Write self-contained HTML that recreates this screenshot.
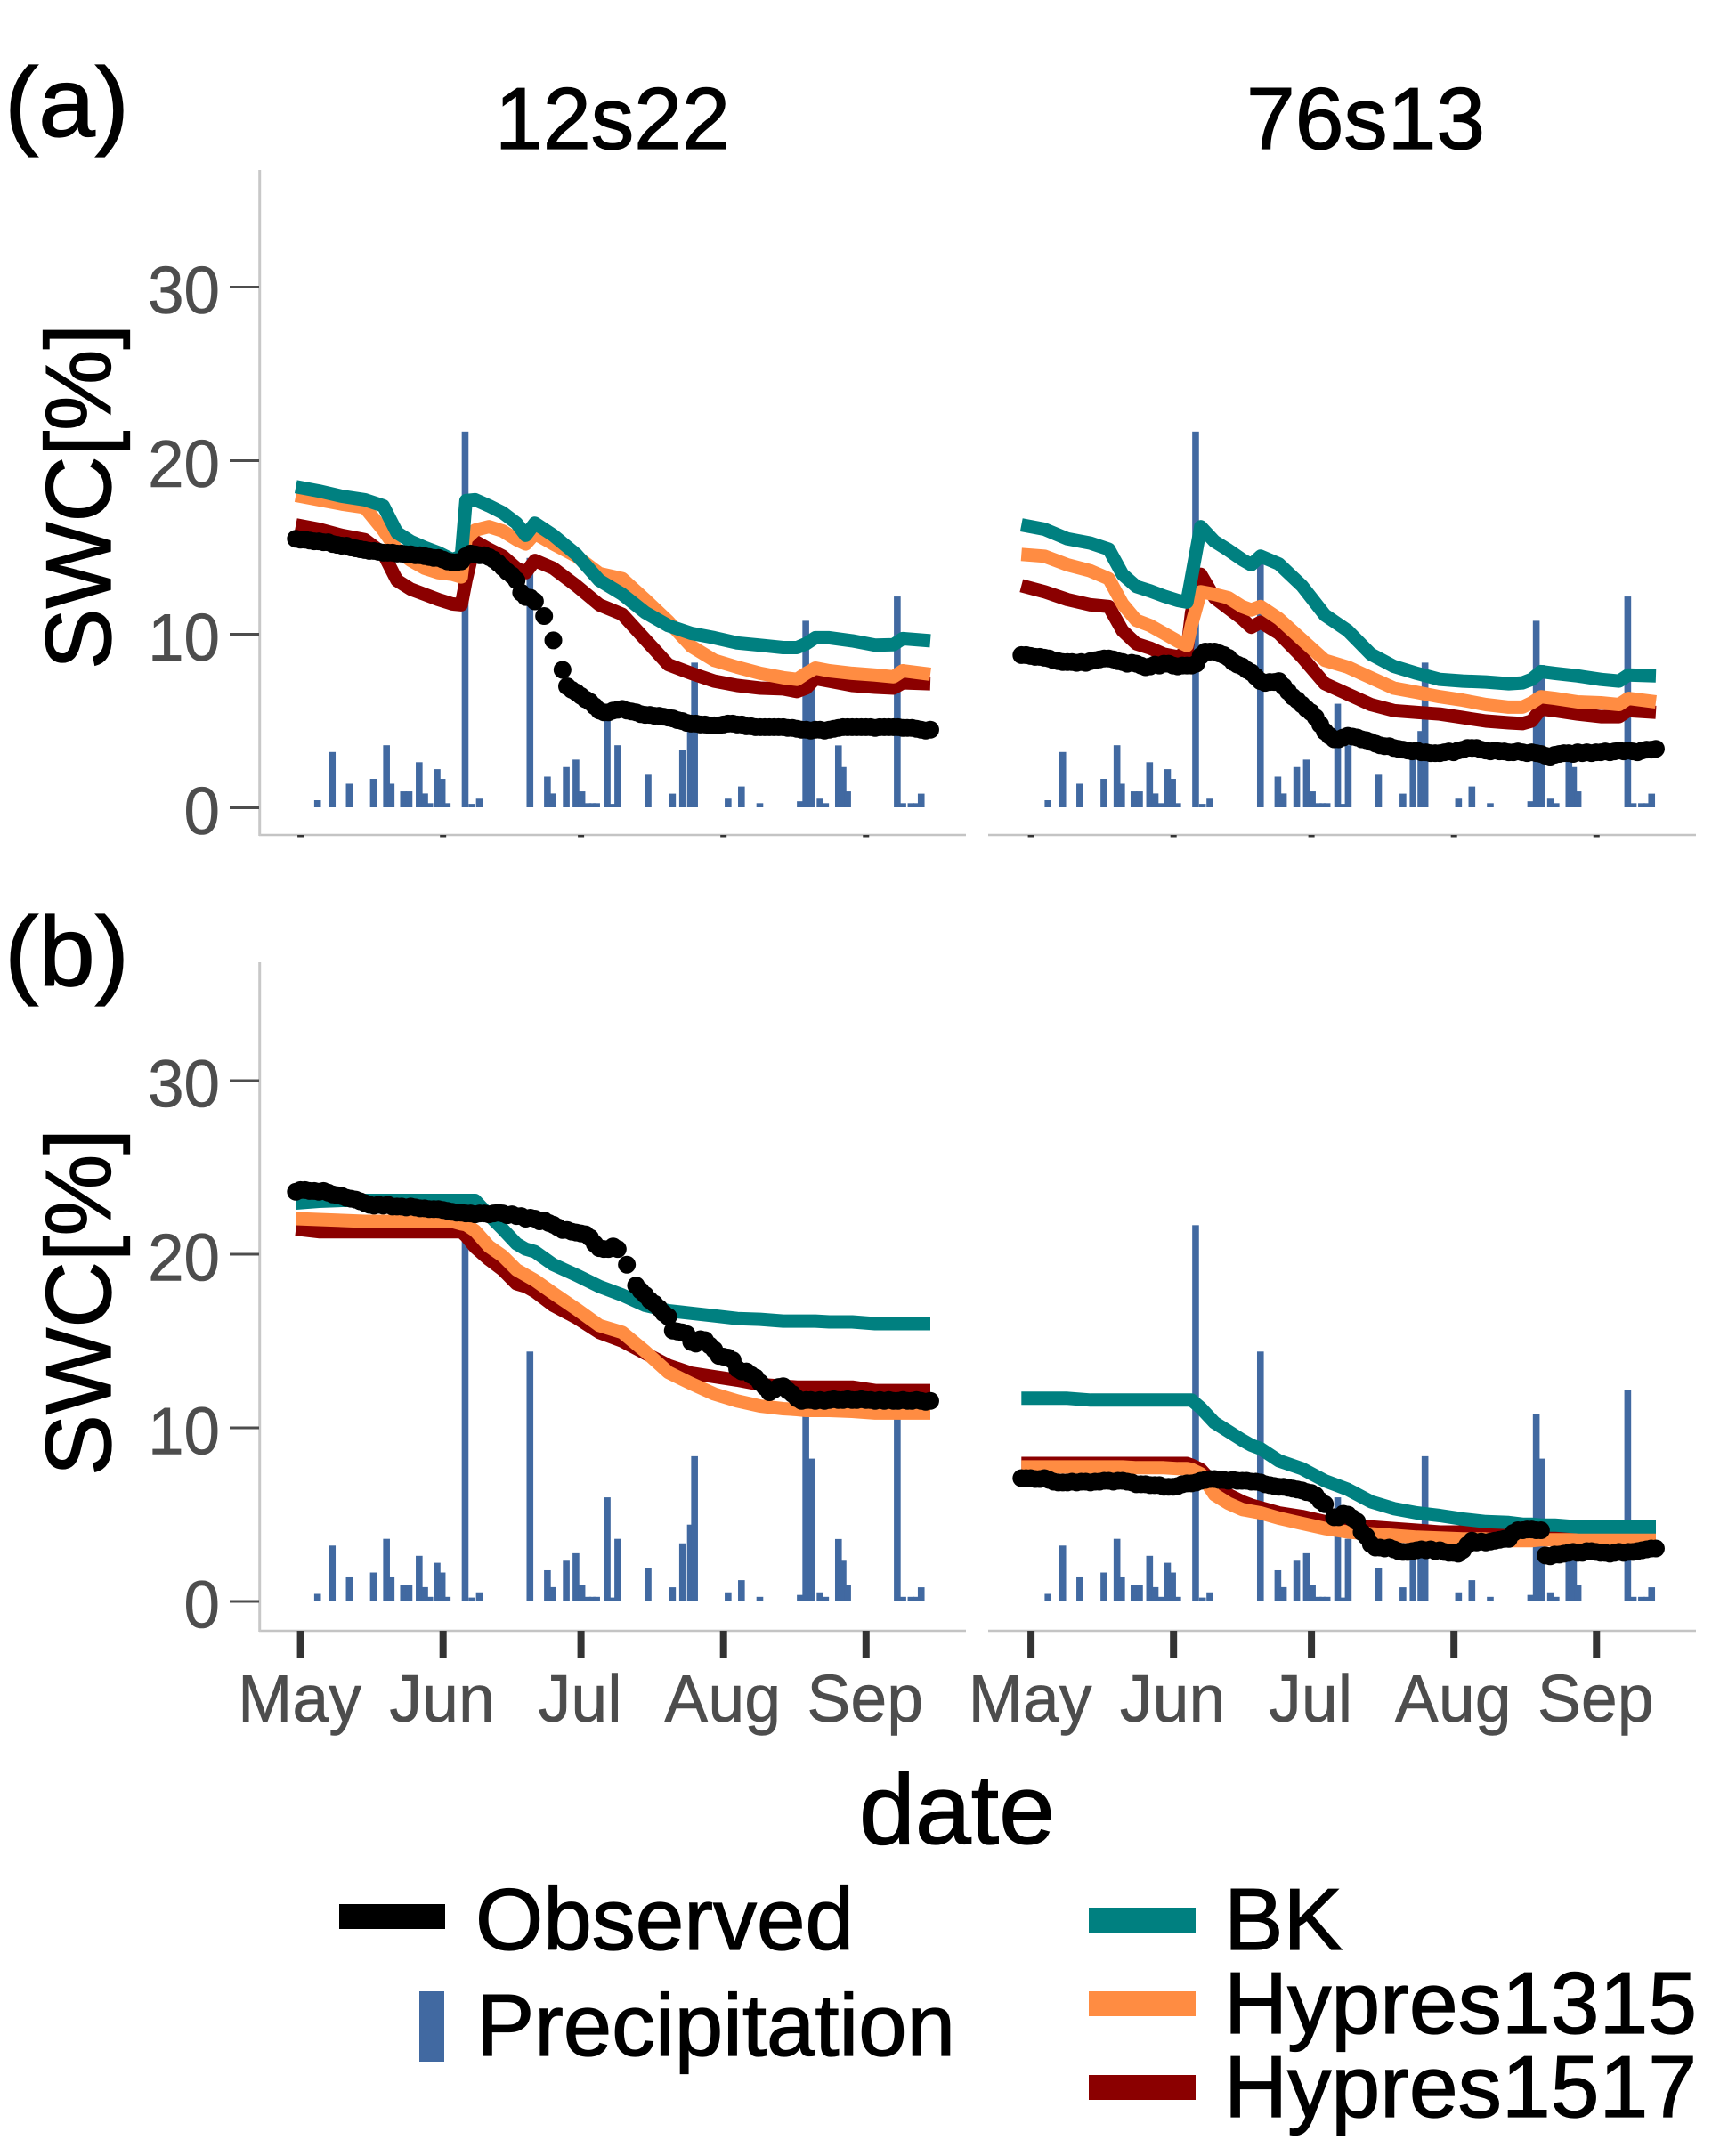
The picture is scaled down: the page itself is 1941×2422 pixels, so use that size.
<!DOCTYPE html>
<html lang="en">
<head>
<meta charset="utf-8">
<title>SWC time series</title>
<style>
html,body{margin:0;padding:0;background:#fff;}
svg{display:block;font-family:"Liberation Sans",Arial,sans-serif;}
.bk{stroke:#000;stroke-width:1.3px;}
</style>
</head>
<body>
<svg id="chart" xmlns="http://www.w3.org/2000/svg" width="1941" height="2422" viewBox="0 0 1941 2422">
  <rect x="0" y="0" width="1941" height="2422" fill="#ffffff"/>
  <text class="bk" x="5" y="153" font-size="110" textLength="140" lengthAdjust="spacingAndGlyphs">(a)</text>
  <text class="bk" x="5" y="1107" font-size="110" textLength="140" lengthAdjust="spacingAndGlyphs">(b)</text>
  <text class="bk" x="556" y="167" font-size="98" textLength="264" lengthAdjust="spacingAndGlyphs">12s22</text>
  <text class="bk" x="1400" y="167" font-size="98" textLength="268" lengthAdjust="spacingAndGlyphs">76s13</text>
  <text class="bk" transform="translate(124,752) rotate(-90)" font-size="104" textLength="388" lengthAdjust="spacingAndGlyphs">SWC[%]</text>
  <text class="bk" transform="translate(124,1658) rotate(-90)" font-size="104" textLength="390" lengthAdjust="spacingAndGlyphs">SWC[%]</text>
  <text class="bk" x="965" y="2071" font-size="111" textLength="220" lengthAdjust="spacingAndGlyphs">date</text>
  <g id="panels"></g>
  <g>
    <rect x="381" y="2139" width="119" height="28" fill="#000000"/>
    <text class="bk" x="534" y="2190" font-size="98" textLength="425" lengthAdjust="spacingAndGlyphs">Observed</text>
    <rect x="471" y="2237" width="28" height="79" fill="#4169a1"/>
    <text class="bk" x="535" y="2309" font-size="98" textLength="538" lengthAdjust="spacingAndGlyphs">Precipitation</text>
    <rect x="1223" y="2143" width="120" height="28" fill="#008080"/>
    <text class="bk" x="1375" y="2190" font-size="98" textLength="133" lengthAdjust="spacingAndGlyphs">BK</text>
    <rect x="1223" y="2237" width="120" height="28" fill="#ff8c42"/>
    <text class="bk" x="1375" y="2284" font-size="98" textLength="531" lengthAdjust="spacingAndGlyphs">Hypres1315</text>
    <rect x="1223" y="2331" width="120" height="28" fill="#8b0000"/>
    <text class="bk" x="1375" y="2378" font-size="98" textLength="531" lengthAdjust="spacingAndGlyphs">Hypres1517</text>
  </g>
</svg>
<script>
// ---- shared categories and tick labels ----
const monthLabels = ["May","Jun","Jul","Aug","Sep"];
const monthDays = [0,31,61,92,123];
const yTicks = [0,10,20,30];

// ---- precipitation (in axis units) ----
const precipDays = [3.7,6.9,10.6,15.85,18.7,19.7,22.4,23.6,25.8,27,28.1,29.7,30.8,31.9,35.8,37.3,38.9,49.9,53.7,54.9,57.8,59.9,61.2,62.5,63.5,64.4,66.7,68,69,75.6,80.9,83.1,84.8,85.7,93,95.9,99.9,108.7,109.9,111.1,113,114.2,117,118,119,129.8,131,132.8,134,135];
const precipValues = [0.41,3.19,1.36,1.64,3.58,1.36,0.92,0.92,2.6,0.8,0.24,2.2,1.64,0.24,21.65,0.2,0.5,14.37,1.77,0.8,2.32,2.75,0.92,0.24,0.24,0.24,5.97,0.2,3.58,1.88,0.79,3.32,4.4,8.34,0.5,1.2,0.24,0.35,10.75,8.2,0.5,0.24,3.57,2.32,0.92,12.15,0.24,0.24,0.24,0.79];

// ---- model lines: shared day index ----
const lineDays = [-1,4,9,14,18,21,24,27,30,33,35,36,38,41,44,47,49,51,55,60,65,70,75,80,85,90,95,100,105,108,110,112,115,120,125,129,131,137];

// panel a, site 12s22
const bkA1 = [18.5,18.25,17.95,17.75,17.4,15.85,15.35,15.0,14.7,14.3,14.5,17.7,17.75,17.4,17.0,16.4,15.7,16.4,15.7,14.6,13.1,12.3,11.25,10.5,10.05,9.8,9.5,9.37,9.23,9.23,9.45,9.8,9.8,9.62,9.37,9.4,9.75,9.62];
const h1315A1 = [18.0,17.75,17.5,17.3,16.0,14.85,14.25,13.8,13.55,13.45,13.3,15.5,16.0,16.2,15.95,15.45,15.2,15.8,15.2,14.5,13.5,13.2,12.0,10.75,9.3,8.5,8.1,7.75,7.5,7.4,7.75,8.05,7.9,7.75,7.65,7.55,7.9,7.7];
const h1517A1 = [16.3,16.05,15.7,15.45,14.65,13.1,12.6,12.3,12.0,11.75,11.7,13.1,15.35,14.9,14.5,13.8,13.55,14.25,13.8,12.8,11.7,11.15,9.7,8.25,7.75,7.3,7.05,6.9,6.85,6.7,6.9,7.45,7.3,7.05,6.95,6.9,7.2,7.15];
// panel a, site 76s13
const bkA2 = [16.3,16.05,15.5,15.25,14.9,13.45,12.75,12.5,12.2,11.95,11.85,13.3,16.2,15.35,14.85,14.3,14.0,14.5,14.05,12.8,11.1,10.2,8.85,8.15,7.75,7.4,7.3,7.25,7.15,7.2,7.4,7.85,7.75,7.6,7.4,7.3,7.65,7.6];
const h1315A2 = [14.6,14.5,14.0,13.65,13.2,11.75,10.8,10.5,10.05,9.6,9.35,10.55,12.45,12.3,12.1,11.6,11.4,11.6,10.9,9.7,8.5,8.1,7.5,6.9,6.65,6.4,6.2,5.95,5.8,5.8,6.05,6.4,6.3,6.1,6.05,5.95,6.3,6.1];
const h1517A2 = [12.8,12.45,12.0,11.7,11.6,10.2,9.45,9.2,8.85,8.7,9.0,11.25,13.45,12.1,11.5,10.9,10.4,10.7,10.05,8.7,7.15,6.55,5.95,5.6,5.5,5.4,5.2,5.0,4.9,4.85,5.0,5.7,5.6,5.4,5.25,5.25,5.6,5.5];
// panel b, site 12s22
const bkB1 = [22.95,23.05,23.1,23.1,23.1,23.1,23.1,23.1,23.1,23.1,23.1,23.1,23.1,22.25,21.45,20.6,20.3,20.15,19.4,18.8,18.15,17.65,17.05,16.75,16.6,16.45,16.3,16.25,16.15,16.15,16.15,16.15,16.1,16.1,16.0,16.0,16.0,16.0];
const h1315B1 = [22.05,22.0,21.95,21.9,21.9,21.9,21.9,21.9,21.9,21.9,21.75,21.7,21.35,20.45,19.9,19.1,18.8,18.5,17.75,16.85,15.9,15.5,14.4,13.2,12.55,11.95,11.55,11.25,11.1,11.05,11.0,11.0,11.0,10.95,10.85,10.85,10.85,10.85];
const h1517B1 = [21.45,21.3,21.3,21.3,21.3,21.3,21.3,21.3,21.3,21.3,21.3,21.05,20.4,19.7,19.1,18.3,18.15,17.85,17.05,16.35,15.5,15.0,14.3,13.6,13.15,12.95,12.75,12.5,12.4,12.35,12.35,12.35,12.35,12.35,12.15,12.15,12.15,12.15];
// panel b, site 76s13
const bkB2 = [11.7,11.7,11.7,11.6,11.6,11.6,11.6,11.6,11.6,11.6,11.6,11.6,11.15,10.3,9.8,9.3,9.0,8.8,8.1,7.65,6.95,6.45,5.75,5.35,5.1,4.95,4.75,4.6,4.55,4.45,4.45,4.4,4.4,4.3,4.3,4.3,4.3,4.3];
const h1315B2 = [7.75,7.75,7.75,7.75,7.75,7.75,7.7,7.7,7.7,7.65,7.65,7.6,7.35,6.15,5.65,5.3,5.2,5.1,4.8,4.5,4.2,4.0,3.9,3.8,3.7,3.65,3.6,3.6,3.5,3.5,3.5,3.55,3.55,3.55,3.55,3.55,3.55,3.55];
const h1517B2 = [7.95,7.95,7.95,7.95,7.95,7.95,7.95,7.95,7.95,7.95,7.95,7.85,7.6,6.75,6.15,5.75,5.55,5.4,5.1,4.9,4.6,4.4,4.3,4.2,4.1,4.0,4.0,4.0,3.95,3.9,3.9,3.8,3.8,3.8,3.8,3.8,3.8,3.8];

// ---- observed daily values, first entry is day -1; null = no reading ----
const obsA1 = [15.5,15.45,15.45,15.4,15.35,15.35,15.3,15.3,15.2,15.15,15.1,15.1,15.0,14.95,14.9,14.85,14.8,14.8,14.75,14.7,14.7,14.7,14.65,14.65,14.6,14.6,14.55,14.55,14.5,14.45,14.4,14.4,14.3,14.2,14.15,14.15,14.2,14.5,14.65,14.6,14.55,14.55,14.45,14.3,14.1,13.85,13.6,13.4,13.1,12.4,12.15,12.1,11.9,null,11.05,null,9.65,null,7.95,7.0,6.8,6.65,6.45,6.25,6.1,5.85,5.6,5.5,5.5,5.6,5.65,5.7,5.6,5.55,5.5,5.4,5.35,5.35,5.3,5.3,5.25,5.2,5.15,5.05,5.0,4.9,4.85,4.85,4.8,4.8,4.75,4.75,4.75,4.8,4.85,4.85,4.8,4.8,4.7,4.7,4.65,4.65,4.65,4.65,4.65,4.65,4.65,4.6,4.6,4.55,4.5,4.5,4.45,4.5,4.5,4.45,4.5,4.55,4.6,4.65,4.65,4.65,4.65,4.65,4.65,4.65,4.6,4.65,4.65,4.65,4.65,4.65,4.6,4.6,4.6,4.55,4.5,4.45,4.5];
const obsA2 = [8.8,8.8,8.75,8.7,8.7,8.65,8.6,8.5,8.45,8.4,8.4,8.4,8.35,8.4,8.35,8.45,8.5,8.55,8.6,8.6,8.55,8.45,8.4,8.3,8.35,8.3,8.2,8.1,8.15,8.25,8.2,8.3,8.3,8.2,8.15,8.2,8.2,8.2,8.3,8.75,9.0,9.0,9.0,8.9,8.8,8.65,8.4,8.25,8.15,7.95,7.8,7.55,7.3,7.2,7.25,7.25,7.3,7.0,6.7,6.4,6.2,5.95,5.7,5.5,5.2,4.8,4.4,4.15,3.95,3.95,4.05,4.15,4.1,4.05,3.95,3.9,3.8,3.7,3.6,3.55,3.55,3.45,3.4,3.35,3.3,3.25,3.3,3.2,3.2,3.15,3.15,3.15,3.2,3.25,3.2,3.3,3.35,3.45,3.45,3.45,3.35,3.3,3.25,3.3,3.25,3.25,3.2,3.2,3.25,3.2,3.15,3.2,3.15,3.1,3.0,2.95,3.05,3.1,3.15,3.15,3.1,3.2,3.15,3.2,3.15,3.2,3.2,3.25,3.2,3.25,3.3,3.25,3.3,3.25,3.2,3.3,3.35,3.35,3.4];
const obsB1 = [23.6,23.7,23.7,23.65,23.65,23.6,23.65,23.55,23.45,23.4,23.35,23.25,23.2,23.15,23.05,22.95,22.85,22.8,22.85,22.8,22.85,22.75,22.75,22.75,22.7,22.75,22.7,22.65,22.65,22.6,22.6,22.6,22.55,22.5,22.45,22.4,22.4,22.35,22.35,22.3,22.35,22.35,22.3,22.35,22.4,22.35,22.25,22.3,22.2,22.2,22.05,22.1,22.05,21.9,21.95,21.8,21.7,21.55,21.4,21.4,21.3,21.25,21.2,21.15,20.95,20.6,20.35,20.3,20.3,20.45,20.3,null,19.4,null,18.2,17.9,17.65,17.35,17.15,16.9,16.6,16.4,15.6,15.55,15.5,15.4,14.95,14.85,15.1,15.05,14.75,14.5,14.15,14.1,14.05,13.9,13.4,13.25,13.25,13.05,12.9,12.6,12.35,12.05,12.2,12.35,12.4,12.15,11.95,11.7,11.55,11.6,11.6,11.55,11.6,11.55,11.6,11.65,11.6,11.6,11.65,11.6,11.6,11.65,11.6,11.6,11.55,11.6,11.55,11.6,11.55,11.55,11.6,11.55,11.55,11.6,11.55,11.5,11.55];
const obsB2 = [7.1,7.1,7.1,7.05,7.05,7.1,7.0,6.9,6.85,6.85,6.85,6.9,6.85,6.9,6.9,6.85,6.9,6.9,6.95,6.95,6.9,6.95,6.95,6.9,6.85,6.75,6.75,6.75,6.7,6.7,6.7,6.6,6.6,6.6,6.65,6.75,6.8,6.8,6.85,6.95,7.0,7.05,7.05,7.0,7.0,6.95,7.0,6.95,6.95,6.95,6.9,6.9,6.85,6.75,6.7,6.65,6.6,6.6,6.55,6.5,6.45,6.4,6.3,6.25,6.1,5.8,5.6,null,4.85,4.85,5.05,5.0,4.8,4.6,4.0,3.75,3.3,3.1,3.1,3.05,3.1,3.0,2.9,2.85,2.85,2.9,2.95,3.0,2.95,3.0,2.9,2.95,2.85,2.8,2.8,2.75,2.95,3.25,3.5,3.4,3.45,3.4,3.45,3.5,3.55,3.6,3.6,3.95,4.1,4.1,4.15,4.15,4.1,4.1,2.65,2.6,2.7,2.7,2.75,2.8,2.85,2.8,2.8,2.9,2.9,2.85,2.8,2.8,2.75,2.8,2.85,2.8,2.85,2.85,2.9,2.95,3.0,3.05,3.05];

const NS = "http://www.w3.org/2000/svg";
const host = document.getElementById("panels");

function make(tag, attrs, parent) {
  const el = document.createElementNS(NS, tag);
  for (const k in attrs) el.setAttribute(k, attrs[k]);
  (parent || host).appendChild(el);
  return el;
}

function drawPanel(p) {
  const xTick = d => 337.6 + p.tickShift + 5.164 * d;
  const xLine = d => 337.5 + p.lineShift + 5.164 * d;
  const y = v => p.zero - v * 19.5;

  const g = make("g", {});
  
  

  // axis lines
  const xAxis = make("line", {x1:p.axisX0, x2:p.axisX1, y1:p.axisBottom, y2:p.axisBottom, stroke:"#c4c4c4", "stroke-width":2.5}, g);
  
  
  if (p.showY) {
    const yAxis = make("line", {x1:291.7, x2:291.7, y1:p.axisTop, y2:p.axisBottom + 1, stroke:"#c8c8c8", "stroke-width":3}, g);
    
    
    yTicks.forEach(t => {
      const mark = make("line", {x1:258, x2:291, y1:y(t), y2:y(t), stroke:"#4d4d4d", "stroke-width":3}, g);
      
      
      const lab = make("text", {transform:"translate(247," + (y(t) + 29.5) + ") scale(0.97,1)", "text-anchor":"end", "font-size":75, fill:"#4d4d4d", stroke:"#4d4d4d", "stroke-width":0.6}, g);
      lab.textContent = String(t);
      
      
    });
  }

  // month ticks
  monthDays.forEach((d, i) => {
    const tick = make("line", {x1:xTick(d), x2:xTick(d), y1:p.axisBottom, y2:p.axisBottom + (p.showMonths ? 31 : 2.5), stroke:"#333333", "stroke-width":p.showMonths ? 8 : 7}, g);
    
    
    if (p.showMonths) {
      const lab = make("text", {transform:"translate(" + (xTick(d) - 1) + ",1934) scale(0.98,1)", "text-anchor":"middle", "font-size":75, fill:"#4d4d4d", stroke:"#4d4d4d", "stroke-width":0.6}, g);
      lab.textContent = monthLabels[i];
      
      
    }
  });

  // precipitation bars
  precipDays.forEach((d, i) => {
    const h = precipValues[i] * 19.5;
    const bar = make("rect", {x:xTick(d) - 3.8, y:p.zero - 0.5 - h, width:7.6, height:h, fill:"#4169a1"}, g);
    
    
  });

  // model lines
  [["hypres1517", p.h1517, "#8b0000"], ["hypres1315", p.h1315, "#ff8c42"], ["bk", p.bk, "#008080"]].forEach(s => {
    const pts = s[1].map((v, i) => xLine(lineDays[i]).toFixed(1) + "," + y(v).toFixed(1)).join(" ");
    const line = make("polyline", {points:pts, fill:"none", stroke:s[2], "stroke-width":15, "stroke-linejoin":"round"}, g);
    
    
  });

  // observed points
  p.obs.forEach((v, i) => {
    if (v === null) return;
    const dot = make("circle", {cx:xLine(i - 1), cy:y(v), r:10, fill:"#000000"}, g);
    
    
  });
}

drawPanel({id:"a-12s22", tickShift:0, lineShift:0, zero:907.5, axisX0:291, axisX1:1085, axisTop:191, axisBottom:938, showY:true, showMonths:false, bk:bkA1, h1315:h1315A1, h1517:h1517A1, obs:obsA1});
drawPanel({id:"a-76s13", tickShift:820.5, lineShift:815, zero:907.5, axisX0:1110, axisX1:1905, axisTop:191, axisBottom:938, showY:false, showMonths:false, bk:bkA2, h1315:h1315A2, h1517:h1517A2, obs:obsA2});
drawPanel({id:"b-12s22", tickShift:0, lineShift:0, zero:1799, axisX0:291, axisX1:1085, axisTop:1081, axisBottom:1832, showY:true, showMonths:true, bk:bkB1, h1315:h1315B1, h1517:h1517B1, obs:obsB1});
drawPanel({id:"b-76s13", tickShift:820.5, lineShift:815, zero:1799, axisX0:1110, axisX1:1905, axisTop:1081, axisBottom:1832, showY:false, showMonths:true, bk:bkB2, h1315:h1315B2, h1517:h1517B2, obs:obsB2});
</script>
</body>
</html>
